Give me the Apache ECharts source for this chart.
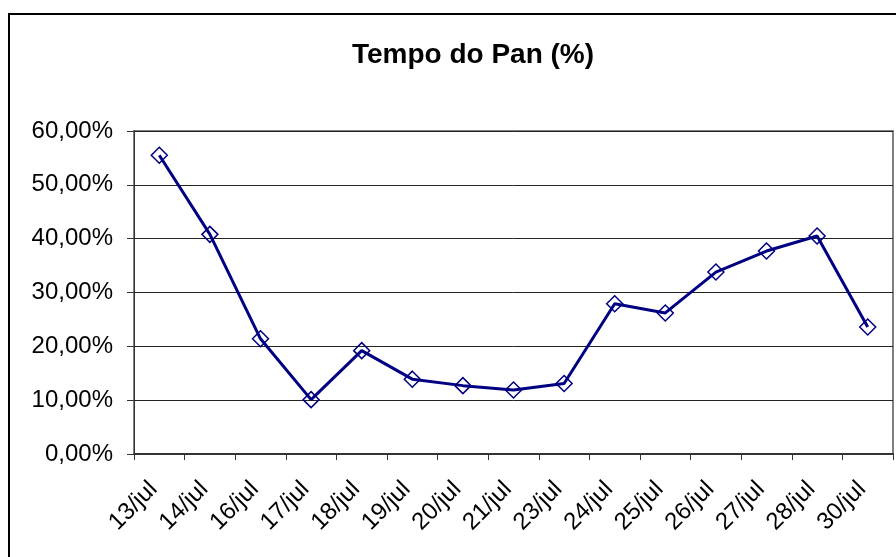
<!DOCTYPE html>
<html>
<head>
<meta charset="utf-8">
<script src="https://cdn.jsdelivr.net/npm/echarts@6/dist/echarts.min.js"></script>
<style>
  html, body { margin: 0; padding: 0; background: #fff; }
  #main { width: 896px; height: 557px; }
</style>
</head>
<body>
<div id="main"></div>
<script>
const categories = ["13/jul", "14/jul", "16/jul", "17/jul", "18/jul", "19/jul", "20/jul",
  "21/jul", "23/jul", "24/jul", "25/jul", "26/jul", "27/jul", "28/jul", "30/jul"];
const panValues = [55.5, 40.8, 21.4, 10.1, 19.2, 13.9, 12.7, 11.9, 13.1, 27.9, 26.2, 33.8, 37.7, 40.5, 23.6];
const yTicks = { min: 0, max: 60, step: 10 };

const chartDom = document.getElementById("main");
const myChart = echarts.init(chartDom);
const font = "Liberation Sans, Arial, sans-serif";
const navy = "#000080";

let option = {
  animation: false,
  backgroundColor: "#fff",
  title: {
    text: "Tempo do Pan (%)",
    left: 468,
    top: 36,
    textAlign: "center",
    textStyle: { fontFamily: font, fontSize: 28, fontWeight: "bold", color: "#000" },
  },
  graphic: [
    {
      type: "rect",
      shape: { x: 9, y: 14, width: 900, height: 560 },
      style: { fill: "none", stroke: "#000", lineWidth: 2 },
      silent: true,
    },
  ],
  grid: {
    left: 134,
    right: 3,
    top: 131,
    bottom: 103,
    show: true,
    borderColor: "#808080",
    borderWidth: 2,
    backgroundColor: "transparent",
  },
  xAxis: {
    type: "category",
    data: categories,
    boundaryGap: true,
    axisLine: { lineStyle: { color: "#333", width: 2 } },
    axisTick: { show: true, length: 6, lineStyle: { color: "#333", width: 1 } },
    axisLabel: {
      rotate: 45,
      margin: 26,
      padding: [0, 8, 0, 0],
      interval: 0,
      fontFamily: font,
      fontSize: 24,
      color: "#000",
    },
    splitLine: { show: false },
  },
  yAxis: {
    type: "value",
    min: yTicks.min,
    max: yTicks.max,
    interval: yTicks.step,
    axisLine: { show: true, lineStyle: { color: "#333", width: 1 } },
    axisTick: { show: true, length: 7, lineStyle: { color: "#333" } },
    axisLabel: {
      margin: 21,
      fontFamily: font,
      fontSize: 24,
      color: "#000",
      formatter: (v) => v.toFixed(2).replace(".", ",") + "%",
    },
    splitLine: { show: true, lineStyle: { color: "#222", width: 1 } },
  },
  series: [
    {
      name: "Tempo do Pan",
      type: "line",
      data: panValues,
      symbol: "diamond",
      symbolSize: 16,
      lineStyle: { color: navy, width: 3 },
      itemStyle: { color: "rgba(255,255,255,0)", borderColor: navy, borderWidth: 1.5 },
      z: 3,
    },
  ],
};

option && myChart.setOption(option);
</script>
</body>
</html>
